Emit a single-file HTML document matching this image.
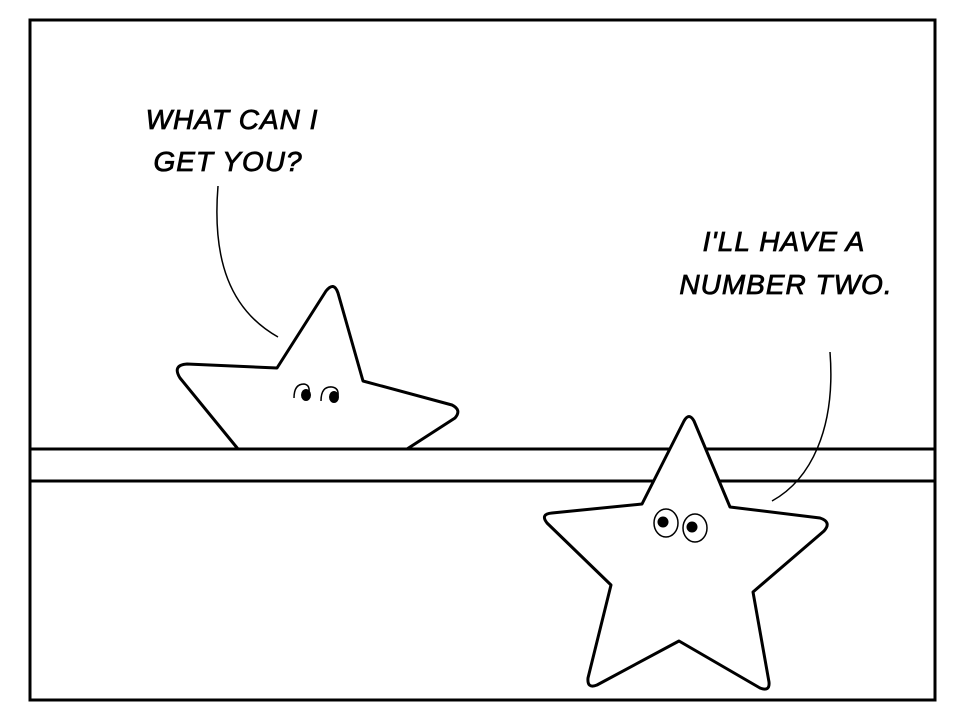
<!DOCTYPE html>
<html><head><meta charset="utf-8"><style>
html,body{margin:0;padding:0;background:#fff;}
svg{display:block;}
text{font-family:"Liberation Sans",sans-serif;font-size:28px;font-style:italic;fill:#000;stroke:#000;stroke-width:0.8px;letter-spacing:1px;}
</style></head><body>
<svg width="966" height="722" viewBox="0 0 966 722">
<rect x="0" y="0" width="966" height="722" fill="#fff"/>
<rect x="30" y="20" width="905" height="680" fill="none" stroke="#000" stroke-width="3"/>
<g>
<text x="232" y="129" text-anchor="middle">WHAT CAN I</text>
<text x="228" y="171" text-anchor="middle">GET YOU?</text>
</g>
<path d="M218,186 C212,260 230,310 278,337" fill="none" stroke="#000" stroke-width="1.5"/>
<g>
<text x="784" y="251" text-anchor="middle">I'LL HAVE A</text>
<text x="786" y="294" text-anchor="middle">NUMBER TWO.</text>
</g>
<path d="M830,352 C836,430 810,480 772,501" fill="none" stroke="#000" stroke-width="1.5"/>
<g>
<path d="M238,449 L180,378 Q172,365 187,364 L277,368 L326,291 Q334,281 338,293 L363,381 L452,405 Q462,410 455,418 L407,449 Z" fill="#fff" stroke="#000" stroke-width="3" stroke-linejoin="round"/>
<path d="M294,398 Q294,384 304,384 Q310,385 309,392" fill="none" stroke="#000" stroke-width="1.5"/>
<ellipse cx="306" cy="395" rx="5" ry="6" fill="#000"/>
<path d="M321,401 Q321,386 332,387 Q339,388 338,396" fill="none" stroke="#000" stroke-width="1.5"/>
<ellipse cx="334" cy="397" rx="5" ry="6" fill="#000"/>
</g>
<line x1="30" y1="449" x2="935" y2="449" stroke="#000" stroke-width="3"/>
<line x1="30" y1="481" x2="935" y2="481" stroke="#000" stroke-width="3"/>
<g>
<path d="M684,421 Q689,412 694,421 L730,507 L820,518 Q832,522 824,531 L753,592 L769,682 Q770,692 760,688 L679,641 L597,685 Q587,689 588,678 L611,585 L547,523 Q540,514 552,513 L642,504 Z" fill="#fff" stroke="#000" stroke-width="3" stroke-linejoin="round"/>
<ellipse cx="666" cy="523" rx="12" ry="14" fill="#fff" stroke="#000" stroke-width="1.5"/>
<circle cx="663" cy="522" r="5.5" fill="#000"/>
<ellipse cx="695" cy="528" rx="12" ry="14" fill="#fff" stroke="#000" stroke-width="1.5"/>
<circle cx="692" cy="527" r="5.5" fill="#000"/>
</g>
</svg>
</body></html>
